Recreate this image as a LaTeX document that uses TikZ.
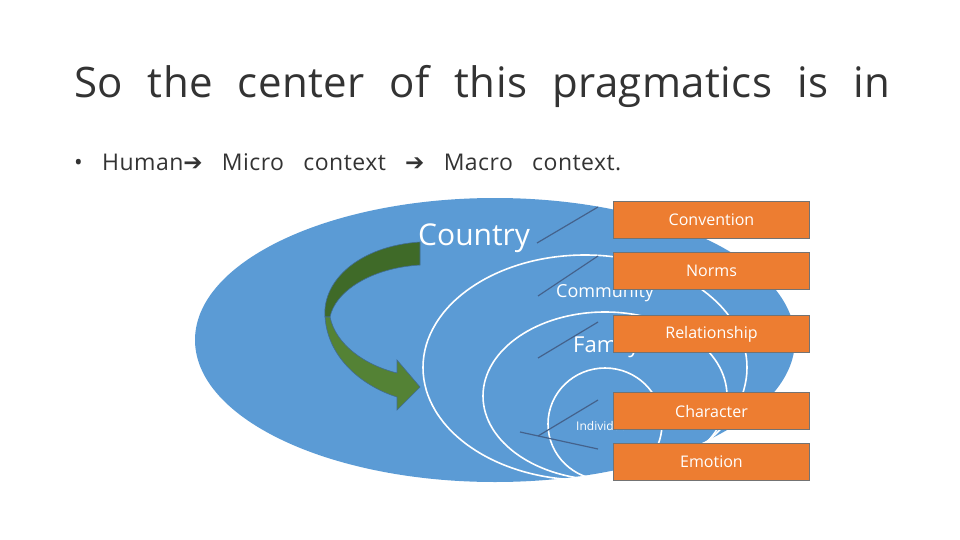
\documentclass[tikz,border=0pt]{standalone}
\usepackage{fontspec}
\setmainfont{Open Sans}
\newfontfamily\dv{DejaVu Sans}
\newfontfamily\tfont{Open Sans}[WordSpace=2.2,LetterSpace=1]
\newfontfamily\bfont{Open Sans}[WordSpace=3,LetterSpace=2]
\begin{document}
\begin{tikzpicture}[x=1pt,y=-1pt,
  box/.style={draw=black!55,line width=1.2pt,fill=boxor,minimum width=196pt,minimum height=37pt,inner sep=0pt,text=white,font=\fontsize{16}{16}\selectfont},
  ring/.style={draw=white,line width=1.6pt},
  lead/.style={draw=leadc,line width=1.2pt},
  lab/.style={text=white,anchor=base west,inner sep=0pt}]
\definecolor{boxor}{HTML}{ED7D31}
\definecolor{bl}{HTML}{5B9BD5}
\definecolor{leadc}{HTML}{44628C}
\definecolor{gdark}{HTML}{3F6A28}
\definecolor{glight}{HTML}{548235}
\useasboundingbox (0,0) rectangle (960,540);
\node[anchor=base west,inner sep=0pt,font=\tfont\fontsize{42}{42}\selectfont,text=black!80] (title) at (74,98) {So the center of this pragmatics is in};
\node[anchor=base west,inner sep=0pt,font=\bfont\fontsize{23}{23}\selectfont,text=black!80] (bul) at (74,171) {\textbullet\ Human{\dv ➔} Micro context {\dv ➔} Macro context.};
\fill[bl] (495,340) ellipse [x radius=300, y radius=142];
\draw[ring] (585,367.5) ellipse [x radius=162, y radius=112.5];
\draw[ring] (605,396) ellipse [x radius=122, y radius=84];
\draw[ring] (605,424) ellipse [x radius=57, y radius=56];
\node[lab,font=\fontsize{30}{30}\selectfont] (country) at (418,245) {Country};
\node[lab,font=\fontsize{18}{18}\selectfont] (comm) at (556,297) {Community};
\node[lab,font=\fontsize{22}{22}\selectfont] (fam) at (573,352) {Family};
\node[lab,font=\fontsize{12}{12}\selectfont] (ind) at (576,430) {Individual};
\coordinate (c1) at (537,243); \coordinate (e1) at (598,207);
\coordinate (c2) at (538,296); \coordinate (e2) at (598,256);
\coordinate (c3) at (538,358); \coordinate (e3) at (598,322);
\coordinate (c4) at (538,436); \coordinate (e4) at (598,400);
\coordinate (c5) at (520,432); \coordinate (e5) at (598,449);
\draw[lead] (c1) -- (e1);
\draw[lead] (c2) -- (e2);
\draw[lead] (c3) -- (e3);
\draw[lead] (c4) -- (e4);
\draw[lead] (c5) -- (e5);
\node[box] (conv) at (711.5,220) {Convention};
\node[box] (norms) at (711.5,271) {Norms};
\node[box] (rel) at (711.5,334) {Relationship};
\node[box] (char) at (711.5,411) {Character};
\node[box] (emo) at (711.5,462) {Emotion};
\fill[gdark,draw=bl!70!black,line width=0.6pt] (420,242) .. controls (360,246) and (322,280) .. (325,317)
  -- (330,317) .. controls (335,292) and (370,268) .. (420,265) -- cycle;
\fill[glight,draw=bl!70!black,line width=0.6pt] (325,317) .. controls (328,360) and (365,387) .. (397,397)
  -- (397,410) -- (420,387) -- (397,360) -- (397,373) .. controls (365,365) and (336,345) .. (330,317) -- cycle;
\end{tikzpicture}
\end{document}
